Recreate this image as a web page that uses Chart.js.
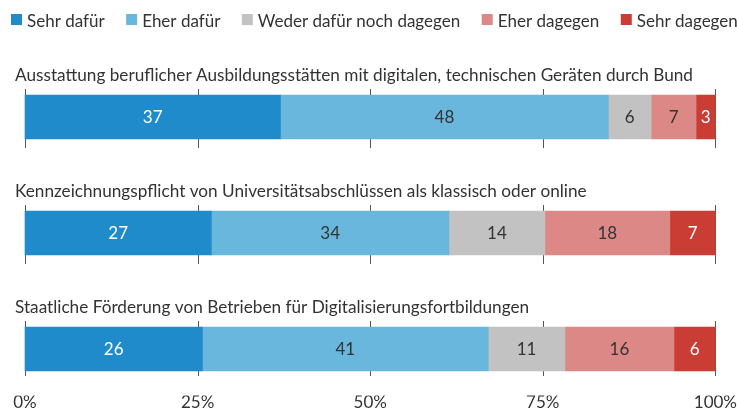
<!DOCTYPE html>
<html>
<head>
<meta charset="utf-8">
<script src="https://cdn.jsdelivr.net/npm/chart.js@4.4.1/dist/chart.umd.min.js"></script>
<style>
  body { margin: 0; background: #fff; }
</style>
</head>
<body>
<canvas id="grafica" width="737" height="409"></canvas>
<script>
// Fragen (Kategorien)
const fragen = [
  "Ausstattung beruflicher Ausbildungsstätten mit digitalen, technischen Geräten durch Bund",
  "Kennzeichnungspflicht von Universitätsabschlüssen als klassisch oder online",
  "Staatliche Förderung von Betrieben für Digitalisierungsfortbildungen"
];
// Antworten in Prozent
const sehrDafuer     = [37.0, 27.0, 25.7];
const eherDafuer     = [47.5, 34.4, 41.4];
const weder          = [6.2, 13.9, 11.1];
const eherDagegen    = [6.5, 18.1, 15.8];
const sehrDagegen    = [2.8, 6.6, 6.0];
const achsenTicks    = [0, 25, 50, 75, 100];

const schrift = "Lato";
const textFarbe = "#333333";

// Legende oben links
const legende = {
  id: "legende",
  afterDraw(chart) {
    const ctx = chart.ctx;
    ctx.save();
    ctx.font = "17px " + schrift;
    ctx.textBaseline = "alphabetic";
    ctx.textAlign = "left";
    let x = 11;
    chart.data.datasets.forEach(ds => {
      ctx.fillStyle = ds.backgroundColor;
      ctx.fillRect(x, 14, 11, 11);
      ctx.fillStyle = textFarbe;
      ctx.fillText(ds.label, x + 16, 26.5);
      x += 16 + ctx.measureText(ds.label).width + 21.5;
    });
    ctx.restore();
  }
};

// Gitterlinien nur als kurze Striche um jeden Balken
const gitterStriche = {
  id: "gitterStriche",
  beforeDatasetsDraw(chart) {
    const ctx = chart.ctx;
    const x = chart.scales.x;
    const meta = chart.getDatasetMeta(0);
    ctx.save();
    ctx.strokeStyle = "#555555";
    ctx.lineWidth = 1;
    meta.data.forEach((bar, i) => {
      const h = bar.height / 2;
      const oben = bar.y - h - 6;
      const unten = bar.y + h + (i < meta.data.length - 1 ? 9 : 5);
      achsenTicks.forEach(t => {
        const px = Math.round(x.getPixelForValue(t)) + 0.5;
        ctx.beginPath();
        ctx.moveTo(px, oben);
        ctx.lineTo(px, unten);
        ctx.stroke();
      });
    });
    ctx.restore();
  }
};

// Fragetext über jedem Balken und Werte in den Balken
const beschriftung = {
  id: "beschriftung",
  afterDatasetsDraw(chart) {
    const ctx = chart.ctx;
    ctx.save();
    ctx.font = "17.2px " + schrift;
    ctx.textBaseline = "alphabetic";
    ctx.textAlign = "left";
    ctx.fillStyle = textFarbe;
    const meta0 = chart.getDatasetMeta(0);
    meta0.data.forEach((bar, i) => {
      ctx.fillText(fragen[i], 15, bar.y - bar.height / 2 - 14);
    });
    ctx.font = "17px " + schrift;
    ctx.textAlign = "center";
    ctx.textBaseline = "middle";
    chart.data.datasets.forEach((ds, d) => {
      const meta = chart.getDatasetMeta(d);
      meta.data.forEach((bar, i) => {
        ctx.fillStyle = ds.labelFarbe;
        ctx.fillText(Math.round(ds.data[i]), (bar.x + bar.base) / 2, bar.y + 1);
      });
    });
    ctx.restore();
  }
};

new Chart(document.getElementById("grafica").getContext("2d"), {
  type: "bar",
  data: {
    labels: fragen.map((f, i) => i),
    datasets: [
      { label: "Sehr dafür", data: sehrDafuer, backgroundColor: "#1f8bca", labelFarbe: "#ffffff" },
      { label: "Eher dafür", data: eherDafuer, backgroundColor: "#69b7dc", labelFarbe: textFarbe },
      { label: "Weder dafür noch dagegen", data: weder, backgroundColor: "#c1c2c1", labelFarbe: textFarbe },
      { label: "Eher dagegen", data: eherDagegen, backgroundColor: "#dc8886", labelFarbe: textFarbe },
      { label: "Sehr dagegen", data: sehrDagegen, backgroundColor: "#c93d35", labelFarbe: "#ffffff" }
    ]
  },
  options: {
    responsive: false,
    animation: false,
    indexAxis: "y",
    layout: { padding: { top: 59, left: 25, right: 20, bottom: 0 } },
    datasets: { bar: { barThickness: 44, clip: false, borderWidth: 0 } },
    scales: {
      x: {
        stacked: true,
        min: 0,
        max: 100,
        grid: { display: false, drawTicks: false },
        border: { display: false },
        ticks: {
          stepSize: 25,
          padding: 0,
          maxRotation: 0,
          color: textFarbe,
          font: { family: schrift, size: 17, lineHeight: 0.8 },
          callback: v => v + "%"
        }
      },
      y: {
        type: "linear",
        stacked: true,
        reverse: true,
        offset: false,
        min: -0.5,
        max: 2.4,
        display: false
      }
    },
    plugins: {
      legend: { display: false },
      tooltip: { enabled: false }
    }
  },
  plugins: [gitterStriche, beschriftung, legende]
});
</script>
</body>
</html>
